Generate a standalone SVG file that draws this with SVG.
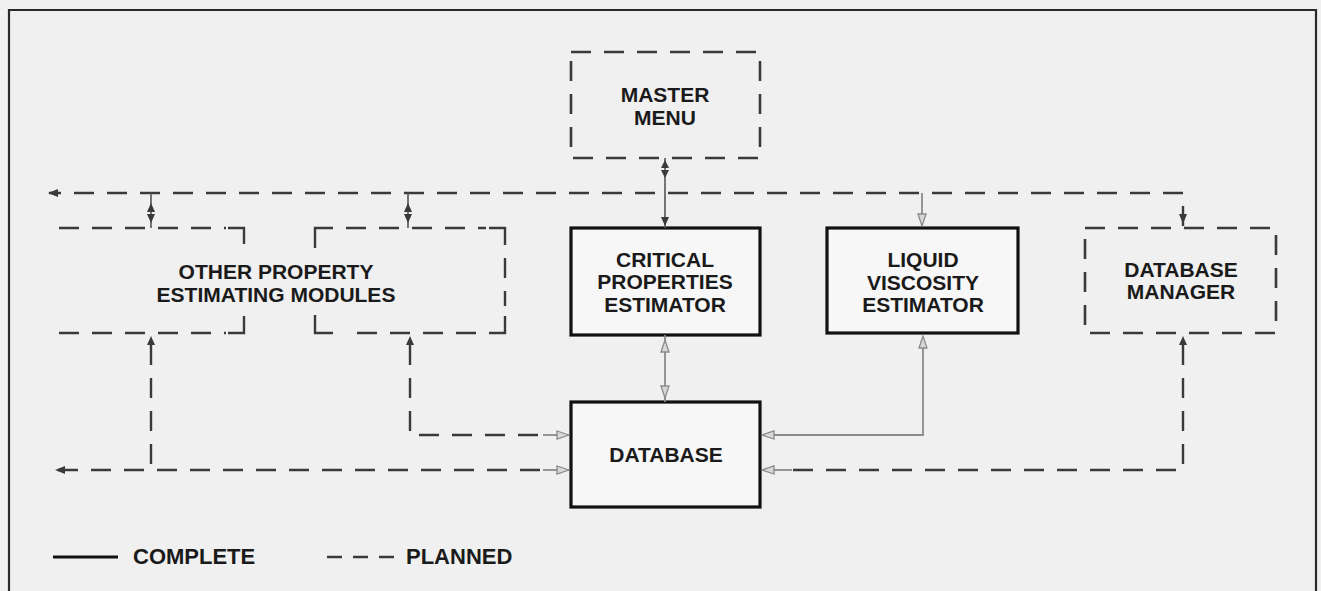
<svg xmlns="http://www.w3.org/2000/svg" width="1321" height="591" viewBox="0 0 1321 591">
<defs>
<style>
.bg{fill:#f0f0f0}
.frame{fill:none;stroke:#2a2a2a;stroke-width:2.2}
.solid{fill:#f7f7f7;stroke:#111;stroke-width:3.2}
.dbox{fill:none;stroke:#3a3a3a;stroke-width:2.6;stroke-dasharray:20 13}
.dash{fill:none;stroke:#3a3a3a;stroke-width:2.4;stroke-dasharray:20 13}
.corner{fill:none;stroke:#3a3a3a;stroke-width:2.4}
.thin{fill:none;stroke:#555;stroke-width:1.6}
.gray{fill:none;stroke:#8a8a8a;stroke-width:1.8}
.ah{fill:#3a3a3a}
.ahg{fill:#d8d8d8;stroke:#8a8a8a;stroke-width:1.3}
text{font-family:"Liberation Sans",Arial,sans-serif;font-weight:bold;font-size:21px;fill:#1a1a1a;text-anchor:middle}
.leg{font-size:22px;text-anchor:start}
</style>
<marker id="arrDark" viewBox="0 0 10 8" refX="9" refY="4" markerWidth="10" markerHeight="8" markerUnits="userSpaceOnUse" orient="auto">
<path d="M0,0 L10,4 L0,8 z" fill="#3a3a3a"/>
</marker>
<marker id="arrGray" viewBox="0 0 14 10" refX="13" refY="5" markerWidth="14" markerHeight="10" markerUnits="userSpaceOnUse" orient="auto">
<path d="M1,1 L13,5 L1,9 z" fill="#d8d8d8" stroke="#8a8a8a" stroke-width="1.3"/>
</marker>
</defs>
<rect class="bg" x="0" y="0" width="1321" height="591"/>
<path class="frame" d="M9,591 V10 H1316 V591"/>

<g id="master-menu">
<rect class="dbox" x="571" y="52" width="189" height="106"/>
<text x="665" y="102">MASTER</text>
<text x="665" y="125">MENU</text>
</g>

<g id="critical-properties-estimator">
<rect class="solid" x="571" y="228" width="189" height="107"/>
<text x="665" y="267">CRITICAL</text>
<text x="665" y="289">PROPERTIES</text>
<text x="665" y="312">ESTIMATOR</text>
</g>

<g id="liquid-viscosity-estimator">
<rect class="solid" x="827" y="228" width="191" height="105"/>
<text x="923" y="267">LIQUID</text>
<text x="923" y="290">VISCOSITY</text>
<text x="923" y="312">ESTIMATOR</text>
</g>

<g id="database-manager">
<rect class="dbox" x="1085" y="228" width="191" height="105"/>
<text x="1181" y="277">DATABASE</text>
<text x="1181" y="299">MANAGER</text>
</g>

<g id="database">
<rect class="solid" x="571" y="402" width="189" height="105"/>
<text x="666" y="462">DATABASE</text>
</g>

<g id="other-property-estimating-modules">
<path class="dash" d="M59,228 H226"/>
<path class="corner" d="M228,228 H244 V244"/>
<path class="dash" d="M59,333 H226"/>
<path class="corner" d="M228,333 H244 V316"/>
<path class="corner" d="M315,248 V228 H333"/>
<path class="dash" d="M346,228 H486"/>
<path class="corner" d="M489,228 H505 V245"/>
<path class="dash" d="M505,258 V306"/>
<path class="corner" d="M505,316 V333 H489"/>
<path class="dash" d="M476,333 H344"/>
<path class="corner" d="M333,333 H315 V315"/>
<text x="276" y="279">OTHER PROPERTY</text>
<text x="276" y="302">ESTIMATING MODULES</text>
</g>

<g id="connectors">
<path class="dash" d="M1183,226 V193 H49" marker-end="url(#arrDark)"/>
<path class="ah" d="M1179,214 L1183,224 L1187,214 z"/>
<path class="thin" d="M151,193 V228"/>
<path class="ah" d="M147,212 L151,203 L155,212 z M147,214 L151,223 L155,214 z"/>
<path class="thin" d="M408,193 V228"/>
<path class="ah" d="M404,212 L408,203 L412,212 z M404,214 L408,223 L412,214 z"/>
<path class="thin" d="M665,158 V228"/>
<path class="ah" d="M661,168 L665,160 L669,168 z M661,170 L665,178 L669,170 z M661,217 L665,226 L669,217 z"/>
<path class="gray" d="M922,193 V226" marker-end="url(#arrGray)"/>
<path class="gray" d="M665,335 V402"/>
<path class="ahg" d="M661,352 L665,340 L669,352 z M661,386 L665,398 L669,386 z"/>
<path class="gray" d="M923,345 V435 H762" marker-end="url(#arrGray)"/>
<path class="ahg" d="M919,348 L923,336 L927,348 z"/>
<path class="dash" d="M1183,345 V470 H792"/>
<path class="ah" d="M1179,345 L1183,336 L1187,345 z"/>
<path class="gray" d="M792,470 H762" marker-end="url(#arrGray)"/>
<path class="dash" d="M410,345 V435 H540"/>
<path class="ah" d="M406,345 L410,336 L414,345 z"/>
<path class="gray" d="M543,435 H569" marker-end="url(#arrGray)"/>
<path class="dash" d="M151,345 V470"/>
<path class="ah" d="M147,345 L151,336 L155,345 z"/>
<path class="dash" d="M540,470 H56" marker-end="url(#arrDark)"/>
<path class="gray" d="M543,470 H569" marker-end="url(#arrGray)"/>
</g>

<g id="legend">
<line x1="53" y1="557" x2="118" y2="557" stroke="#111" stroke-width="3"/>
<text class="leg" x="133" y="564">COMPLETE</text>
<path d="M327,557 H394" fill="none" stroke="#3a3a3a" stroke-width="2.6" stroke-dasharray="15 11"/>
<text class="leg" x="406" y="564">PLANNED</text>
</g>
</svg>
